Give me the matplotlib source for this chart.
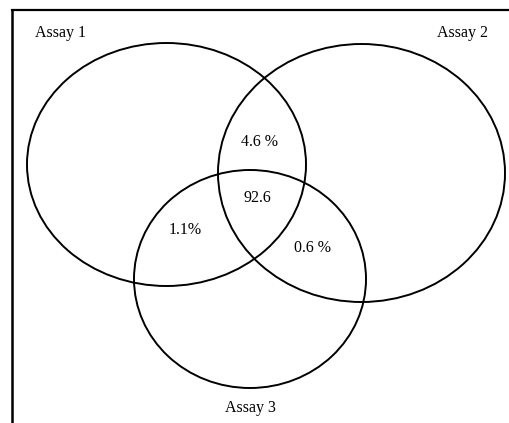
import matplotlib
matplotlib.use("Agg")
from matplotlib import pyplot as plt
from matplotlib.patches import Ellipse

plt.rcParams['font.family'] = ['Liberation Serif', 'DejaVu Serif']

# circles: name, centre x, centre y, width, height (pixel space of the picture)
set_names = ["Assay 1", "Assay 2", "Assay 3"]
centres = [(166.5, 164.5), (361.5, 173), (250, 279)]
sizes = [(279, 243), (287, 258), (232, 218)]
name_pos = [(61, 33), (463, 33), (250, 408)]

region_labels = ["4.6 %", "92.6", "1.1%", "0.6 %"]
region_pos = [(260, 142), (257, 198), (185, 230), (313, 248)]

fig = plt.figure(figsize=(5.1, 4.23), dpi=100)
ax = fig.add_axes([0, 0, 1, 1])
ax.set_xlim(0, 510)
ax.set_ylim(423, 0)
ax.axis("off")

# frame: only top and left are visible in the picture
ax.plot([12, 510], [10.5, 10.5], color="black", linewidth=1.6)
ax.plot([12.5, 12.5], [10, 423], color="black", linewidth=1.8)

for (cx, cy), (w, h) in zip(centres, sizes):
    ax.add_patch(Ellipse((cx, cy), w, h, fill=False, edgecolor="black", linewidth=1.4))

for name, (x, y) in zip(set_names, name_pos):
    ax.text(x, y, name, fontsize=11.5, ha="center", va="center")

for lab, (x, y) in zip(region_labels, region_pos):
    ax.text(x, y, lab, fontsize=11.5, ha="center", va="center")

fig.savefig("out.png", dpi=100)
plt.close(fig)
